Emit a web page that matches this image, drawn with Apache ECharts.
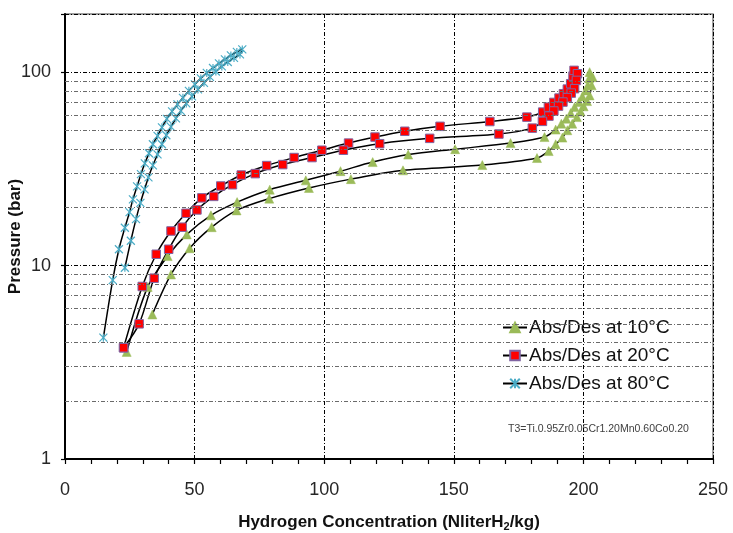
<!DOCTYPE html>
<html>
<head>
<meta charset="utf-8">
<script src="https://cdn.jsdelivr.net/npm/echarts@6/dist/echarts.min.js"></script>
<style>html,body{margin:0;padding:0;background:#fff}#c{width:733px;height:533px}</style>
</head>
<body>
<div id="c"></div>
<script>
// ---- data: [H2 concentration (Nliter/kg), pressure (bar)] ----
const xTicks = [0, 50, 100, 150, 200, 250];
const yTicks = [1, 10, 100];
const minorGrid = [2, 3, 4, 5, 6, 7, 8, 9, 20, 30, 40, 50, 60, 70, 80, 90];

const t10Abs = [[23.8,3.58],[31.9,7.76],[39.6,11.2],[47.0,14.5],[56.3,18.2],[66.4,21.3],[79.0,24.7],[92.9,27.6],[106.3,30.8],[118.7,34.3],[132.4,37.5],[150.5,40.0],[171.9,43.0],[185.0,46.2],[189.3,50.5],[191.5,54.2],[193.4,57.5],[195.1,61.5],[196.6,66.0],[198.3,70.1],[199.6,75.0],[200.9,80.5],[201.7,85.5],[202.2,92.9],[202.4,100.1]];
const t10Des = [[203.6,94.3],[203.2,85.5],[202.4,75.9],[201.4,70.9],[200.1,66.6],[198.9,62.7],[197.5,58.6],[195.7,54.2],[193.8,50.1],[191.9,45.9],[189.3,42.4],[186.6,39.1],[182.1,36.0],[161.0,33.1],[130.4,31.1],[110.3,28.0],[94.1,25.2],[78.8,22.2],[66.2,19.3],[56.6,15.8],[48.1,12.3],[40.9,9.0],[33.7,5.59]];

const t20Abs = [[22.6,3.76],[29.8,7.8],[35.2,11.45],[40.9,15.1],[46.7,18.65],[52.8,22.4],[60.1,25.8],[68.0,29.4],[77.8,32.9],[88.4,36.2],[99.1,39.5],[109.4,43.0],[119.6,46.2],[131.1,49.5],[144.7,52.5],[163.9,55.6],[178.2,58.6],[184.3,62.2],[186.5,66.0],[188.6,69.8],[190.6,73.5],[192.3,77.4],[193.8,81.8],[195.1,87.2],[196.0,95.5],[196.4,102.2]];
const t20Des = [[197.7,98.2],[197.3,90.7],[196.6,82.2],[195.3,78.0],[193.8,73.9],[192.1,70.1],[190.4,66.8],[188.6,63.0],[186.7,59.3],[184.2,55.7],[180.3,51.4],[167.4,47.9],[140.7,45.5],[121.4,42.7],[107.4,39.5],[95.3,36.2],[84.0,33.3],[73.4,29.9],[64.6,26.2],[57.4,22.8],[50.9,19.4],[45.2,15.8],[40.0,12.15],[34.4,8.61],[28.6,5.0],[22.6,3.76]];

const t80Abs = [[14.8,4.24],[18.4,8.41],[20.8,12.15],[23.1,15.7],[24.9,18.9],[26.2,22.0],[27.8,25.7],[29.3,29.7],[30.8,33.8],[32.4,38.1],[33.9,42.4],[35.7,46.9],[37.4,51.9],[39.3,57.4],[41.3,62.7],[43.4,68.2],[45.5,73.7],[47.8,80.1],[50.1,86.5],[52.4,92.9],[54.7,99.2],[57.1,105.2],[59.4,111.1],[61.7,116.5],[64.0,122.1],[66.3,127.3],[68.4,131.2]];
const t80Des = [[67.5,123.6],[65.2,118.6],[62.8,113.0],[60.5,107.2],[58.2,100.9],[55.9,94.6],[53.6,88.1],[51.3,81.5],[49.0,75.0],[46.8,69.0],[44.7,63.1],[42.8,57.7],[40.9,52.2],[39.1,47.2],[37.4,42.4],[35.7,37.6],[33.9,33.0],[32.2,28.6],[30.7,24.8],[29.1,21.1],[27.4,17.4],[25.4,13.45],[23.1,9.75]];

const seriesNames = ['Abs/Des at 10°C', 'Abs/Des at 20°C', 'Abs/Des at 80°C'];
const annotation = 'T3=Ti.0.95Zr0.05Cr1.20Mn0.60Co0.20';

const FONT = '"Liberation Sans", Arial, sans-serif';
const chart = echarts.init(document.getElementById('c'), null, {renderer: 'canvas'});
const starPath = 'path://M0,0L10,10M10,0L0,10M5,0L5,10';

const lineBase = {type: 'line', smooth: 0.3, lineStyle: {color: '#000', width: 1.5}, emphasis: {disabled: true}, animation: false, z: 3};

chart.setOption({
  animation: false,
  grid: {left: 65, right: 20, top: 14, bottom: 74, outerBoundsMode: 'none', containLabel: false,
    show: true, borderColor: '#7f7f7f', borderWidth: 1.5, backgroundColor: 'transparent'},
  legend: {
    orient: 'vertical', left: 497, top: 313, itemGap: 9, itemWidth: 24, itemHeight: 12,
    textStyle: {fontFamily: FONT, fontSize: 19, color: '#111', padding: [0, 0, 0, -3]},
    data: seriesNames
  },
  graphic: [{
    type: 'text', left: 508, top: 424,
    style: {text: annotation, fontFamily: FONT, fontSize: 10.5, fill: '#404040'}
  }],
  xAxis: {
    type: 'value', min: 0, max: 250, interval: 50,
    name: '{b|Hydrogen Concentration (NliterH}{s|2}{b|/kg)}',
    nameLocation: 'middle', nameGap: 52, nameMoveOverlap: false,
    nameTextStyle: {rich: {
      b: {fontFamily: FONT, fontWeight: 'bold', fontSize: 17, color: '#111', lineHeight: 22},
      s: {fontFamily: FONT, fontWeight: 'bold', fontSize: 11, color: '#111', lineHeight: 22, padding: [9, 0, 0, 0]}
    }},
    axisLine: {lineStyle: {color: '#000', width: 2}},
    axisTick: {show: true, length: 5, lineStyle: {color: '#000', width: 1.2}},
    minorTick: {show: true, splitNumber: 5, length: 5, lineStyle: {color: '#000', width: 1.2}},
    axisLabel: {fontFamily: FONT, fontSize: 18, color: '#262626', margin: 22},
    splitLine: {show: true, lineStyle: {color: '#000', width: 1, type: [4, 2, 1, 2]}}
  },
  yAxis: {
    type: 'log', logBase: 10, min: 1, max: 200,
    name: 'Pressure (bar)', nameLocation: 'middle', nameGap: 41, nameRotate: 90, nameMoveOverlap: false,
    nameTextStyle: {fontFamily: FONT, fontWeight: 'bold', fontSize: 17, color: '#111'},
    axisLine: {show: true, lineStyle: {color: '#000', width: 2}},
    axisTick: {show: true, length: 4, lineStyle: {color: '#000', width: 1.2}},
    axisLabel: {fontFamily: FONT, fontSize: 18, color: '#262626', margin: 14,
      formatter: v => (yTicks.indexOf(Math.round(v)) >= 0 ? String(Math.round(v)) : '')},
    splitLine: {show: true, lineStyle: {color: '#000', width: 1, type: [4, 2, 1, 2]}}
  },
  series: [
    Object.assign({}, lineBase, {
      name: seriesNames[0],
      data: t10Abs.concat(t10Des),
      symbol: 'triangle', symbolSize: 9,
      itemStyle: {color: '#9BBB59', borderColor: '#9BBB59', borderWidth: 0.5},
      markLine: {
        silent: true, symbol: ['none', 'none'], label: {show: false}, animation: false,
        lineStyle: {color: '#6a6a6a', width: 1, type: [4, 2, 1, 2]},
        data: minorGrid.map(v => ({yAxis: v}))
      }
    }),
    Object.assign({}, lineBase, {
      name: seriesNames[1],
      data: t20Abs.concat(t20Des),
      symbol: 'rect', symbolSize: 8.5,
      itemStyle: {color: '#FF0000', borderColor: '#8064A2', borderWidth: 1}
    }),
    Object.assign({}, lineBase, {
      name: seriesNames[2],
      data: t80Abs.concat(t80Des),
      symbol: starPath, symbolSize: 8,
      itemStyle: {color: 'transparent', borderColor: '#4BACC6', borderWidth: 1.2}
    })
  ]
});
</script>
</body>
</html>
